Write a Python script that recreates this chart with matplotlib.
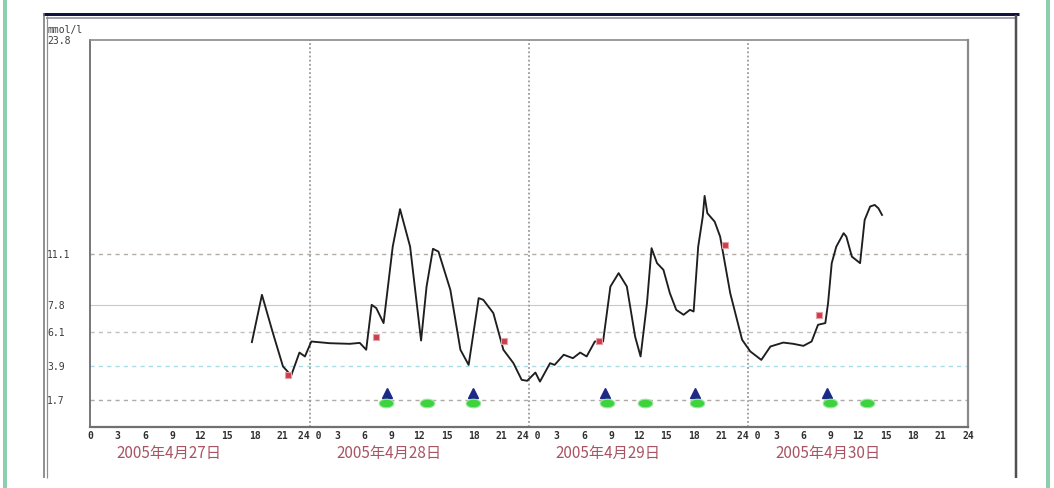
import matplotlib
matplotlib.use("Agg")
import matplotlib.pyplot as plt
from matplotlib.lines import Line2D
import numpy as np

# ---------------- data ----------------
hours = [17.7, 18.8, 20.0, 21.1, 22.0, 22.9, 23.5, 24.2, 26.2, 28.4, 29.5, 30.2,
         30.8, 31.3, 32.1, 33.1, 33.9, 35.0, 36.2, 36.8, 37.5, 38.1, 39.4, 40.5,
         41.4, 42.5, 43.0, 44.1, 45.2, 46.3, 47.2, 47.8, 48.7, 49.2, 50.3, 50.8,
         51.8, 52.8, 53.6, 54.3, 55.2, 56.1, 56.9, 57.8, 58.7, 59.6, 60.2, 60.9,
         61.4, 62.0, 62.7, 63.4, 64.1, 64.9, 65.6, 66.0, 66.5, 67.0, 67.2, 67.5,
         68.3, 68.9, 70.0, 71.3, 72.2, 73.4, 74.4, 75.8, 76.9, 78.0, 78.9, 79.6,
         80.4, 80.7, 81.1, 81.6, 82.4, 82.7, 83.3, 84.2, 84.7, 85.3, 85.8, 86.2,
         86.6]
glucose = [5.44, 8.47, 6.02, 3.88, 3.3, 4.77, 4.52, 5.48, 5.37, 5.33, 5.39, 4.95,
           7.83, 7.62, 6.66, 11.56, 13.96, 11.56, 5.54, 9.0, 11.42, 11.24, 8.79, 4.95,
           3.98, 8.26, 8.15, 7.30, 4.95, 4.09, 3.02, 2.96, 3.49, 2.91, 4.09, 3.98,
           4.63, 4.41, 4.77, 4.52, 5.48, 5.48, 9.0, 9.86, 9.0, 5.80, 4.52, 7.94,
           11.46, 10.50, 10.07, 8.58, 7.51, 7.19, 7.51, 7.40, 11.56, 13.49, 14.81, 13.70,
           13.16, 12.20, 8.58, 5.59, 4.84, 4.30, 5.16, 5.41, 5.33, 5.20, 5.48, 6.55,
           6.66, 7.94, 10.5, 11.56, 12.42, 12.20, 10.92, 10.50, 13.27, 14.13, 14.23, 14.02,
           13.59]

cal_hours = [21.65, 31.24, 45.27, 55.65, 69.43, 79.74]
cal_values = [3.34, 5.76, 5.54, 5.54, 11.67, 7.19]

meal_hours = [32.44, 41.91, 56.31, 66.15, 80.55]
meal_level = 2.17

event_hours = [32.36, 36.81, 41.91, 56.56, 60.68, 66.33, 80.91, 84.92]
event_level = 1.53

ref_levels = [11.1, 7.8, 6.1, 3.9, 1.7]
ref_labels = ["11.1", "7.8", "6.1", "3.9", "1.7"]
top_value = 24.8
top_label = "23.8"
unit_label = "mmol/l"

day_labels = ["2005年4月27日", "2005年4月28日", "2005年4月29日", "2005年4月30日"]
hour_tick_labels = ["0", "3", "6", "9", "12", "15", "18", "21"]

# ---------------- figure ----------------
W, H = 1054, 488
fig = plt.figure(figsize=(W / 100, H / 100), dpi=100, facecolor="white")

def px(x, y):
    return x / W, 1 - y / H

def frame_line(x0, y0, x1, y1, color, lw_px):
    a = px(x0, y0)
    b = px(x1, y1)
    fig.add_artist(Line2D([a[0], b[0]], [a[1], b[1]], transform=fig.transFigure,
                          color=color, lw=lw_px * 0.72, solid_capstyle="butt"))

# outer green stripes
frame_line(5, 0, 5, H, "#8ccfae", 4)
frame_line(1048, 0, 1048, H, "#8ccfae", 4)
# window frame
frame_line(43, 13.5, 1019, 13.5, "#12123a", 3)
frame_line(46, 18, 1015, 18, "#a4a4b4", 2)
frame_line(43.5, 13, 43.5, 478, "#707070", 1.5)
frame_line(46.5, 16, 46.5, 478, "#909090", 1.2)
frame_line(1015.5, 15, 1015.5, 478, "#505050", 2.5)

ax = fig.add_axes([90 / W, 1 - 427 / H, (968 - 90) / W, (427 - 40) / H])
ax.set_facecolor("white")
ax.set_xlim(0, 96)
ax.set_ylim(0, top_value)

for s in ax.spines.values():
    s.set_color("#8a8a8a")
    s.set_linewidth(1.2)
ax.spines["left"].set_color("#606060")
ax.spines["bottom"].set_color("#707070")
ax.spines["bottom"].set_linewidth(1.6)
ax.spines["right"].set_linewidth(1.6)

# reference lines
ref_styles = [
    dict(color="#b4aca6", ls=(0, (3, 3)), lw=1.0),
    dict(color="#c8c8c8", ls="-", lw=0.8),
    dict(color="#c4c0bc", ls=(0, (3, 3)), lw=1.0),
    dict(color="#a8dce6", ls=(0, (3, 3)), lw=1.0),
    dict(color="#b0aaa6", ls=(0, (3, 3)), lw=1.0),
]
for lvl, st in zip(ref_levels, ref_styles):
    ax.axhline(lvl, zorder=1, **st)

# day boundaries
for d in range(1, len(day_labels)):
    ax.axvline(24 * d, color="#9a9a9a", ls=(0, (1, 1.3)), lw=1.3, zorder=1)

# glucose curve
ax.plot(hours, glucose, color="#1e1e1e", lw=1.35, solid_joinstyle="round", zorder=3)

# calibration points
ax.plot(cal_hours, cal_values, ls="none", marker="s", ms=4.5, mfc="#c8404c",
        mec="#e8a0a8", mew=0.8, zorder=4)

# meal triangles
ax.plot(meal_hours, [meal_level] * len(meal_hours), ls="none", marker="^", ms=7,
        color="#1c2a86", zorder=4)

# green ellipse events
t = np.linspace(0, 2 * np.pi, 40)
ellipse = np.column_stack([1.7 * np.cos(t), np.sin(t)])
ax.scatter(event_hours, [event_level] * len(event_hours), marker=ellipse, s=110,
           color="#3ed23e", edgecolor="#9ae89a", linewidth=0.8, zorder=4)

# x ticks
xt, xl = [], []
n_days = len(day_labels)
for d in range(n_days):
    for i, lab in enumerate(hour_tick_labels):
        xt.append(24 * d + 3 * i)
        xl.append("24 0" if (i == 0 and d > 0) else lab)
xt.append(24 * n_days)
xl.append("24")
ax.set_xticks(xt)
ax.set_xticklabels(xl, family="DejaVu Sans Mono", fontsize=7, color="#303030",
                   fontweight="bold")
ax.tick_params(axis="x", length=0, pad=3)

# y ticks
ax.set_yticks(ref_levels + [top_value])
ax.set_yticklabels(ref_labels + [top_label], family="DejaVu Sans Mono", fontsize=7,
                   color="#3a3a3a")
for lab in ax.get_yticklabels():
    lab.set_horizontalalignment("left")
ax.tick_params(axis="y", length=0, pad=31)

fig.text(48 / W, 1 - 30 / H, unit_label, family="DejaVu Sans Mono", fontsize=7,
         color="#3a3a3a", va="center", ha="left")

# date labels
for d, lab in enumerate(day_labels):
    ax.text(24 * d + 2.9, -0.068, lab, transform=ax.get_xaxis_transform(),
            family=["Noto Sans CJK SC", "DejaVu Sans"], fontsize=11,
            color="#a85462", ha="left", va="center")

fig.savefig("out.png", dpi=100, facecolor="white")
